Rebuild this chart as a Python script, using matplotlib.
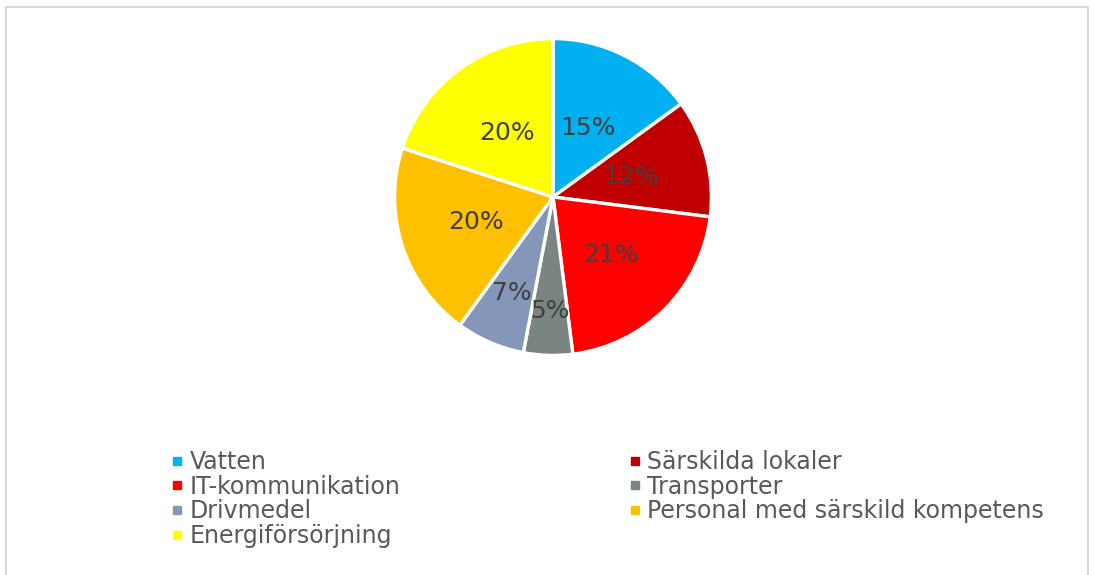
import matplotlib.pyplot as plt
from matplotlib.lines import Line2D
from matplotlib.patches import Rectangle
import numpy as np

categories = ['Vatten', 'Särskilda lokaler', 'IT-kommunikation', 'Transporter',
              'Drivmedel', 'Personal med särskild kompetens', 'Energiförsörjning']
shares = [15, 12, 21, 5, 7, 20, 20]
colors = ['#00B0F0', '#C00000', '#FF0000', '#7A8481', '#8497B9', '#FFC000', '#FFFF00']
# label distance from centre (fraction of radius), small slices pushed out a bit
label_r = [0.49, 0.51, 0.52, 0.72, 0.66, 0.51, 0.5]

plt.rcParams['font.family'] = ['DejaVu Sans']

fig = plt.figure(figsize=(10.94, 5.75), dpi=100)

# light grey frame like the chart area border
fig.patches.append(Rectangle((6 / 1094, -0.01), 1082 / 1094, 1 - 7 / 575 + 0.01,
                             transform=fig.transFigure, fill=False,
                             edgecolor='#D9D9D9', linewidth=1.5))

ax = fig.add_axes([(553 - 160) / 1094, (575 - 357) / 575, 320 / 1094, 320 / 575])
wedges, texts = ax.pie(shares, colors=colors, startangle=90, counterclock=False,
                       wedgeprops=dict(edgecolor='white', linewidth=2.4))
ax.set_xlim(-1.01, 1.01)
ax.set_ylim(-1.01, 1.01)
ax.set_aspect('equal')

for w, val, r in zip(wedges, shares, label_r):
    ang = np.deg2rad((w.theta1 + w.theta2) / 2)
    ax.text(r * np.cos(ang), r * np.sin(ang), f'{val}%', ha='center', va='center',
            fontsize=18, color='#404040')

order = [0, 2, 4, 6, 1, 3, 5]
handles = [Line2D([], [], marker='s', linestyle='none', markersize=6,
                  markerfacecolor=colors[i], markeredgecolor=colors[i]) for i in order]
labels = [categories[i] for i in order]
fig.legend(handles, labels, ncol=2, loc='upper left', bbox_to_anchor=(159 / 1094, 1 - 438 / 575),
           frameon=False, fontsize=17, labelcolor='#595959', handlelength=0.55,
           handletextpad=0.25, columnspacing=9.65, labelspacing=0.03, borderpad=0)

plt.savefig('out.png')
